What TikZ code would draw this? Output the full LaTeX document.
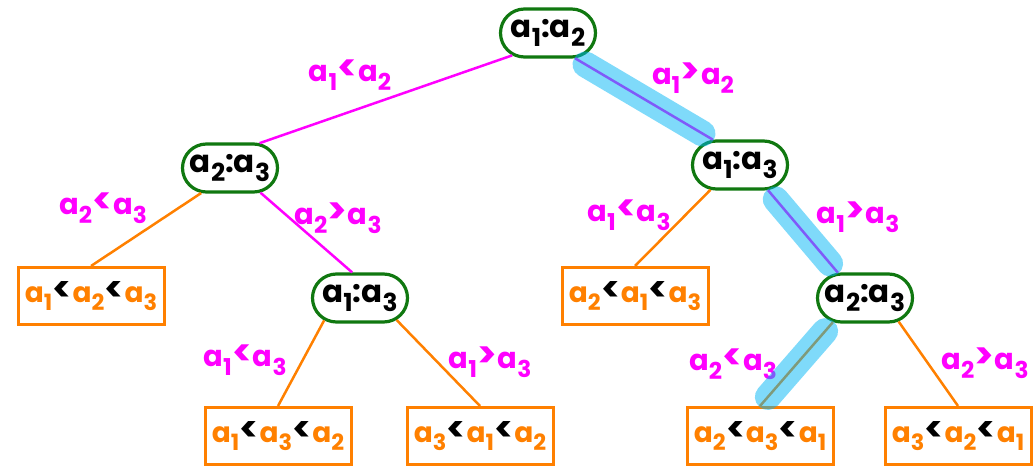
\documentclass[tikz,border=0pt]{standalone}
\usepackage{fontspec}
\usepackage{graphicx}
\setmainfont{Poppins}
\usetikzlibrary{shapes.misc}
\definecolor{mag}{RGB}{255,0,255}
\definecolor{org}{RGB}{255,128,0}
\definecolor{grn}{RGB}{16,120,16}
\definecolor{hl}{RGB}{0,181,245}
% a with a lowered, slightly smaller index
\newcommand\va[1]{a\raisebox{-0.55ex}{\scalebox{0.8}{#1}}}
% enlarged comparison signs
\newcommand\lsign{\kern0.5pt\raisebox{0.05ex}{\scalebox{1.25}{<}}\kern0.5pt}
\newcommand\gsign{\kern0.5pt\raisebox{0.05ex}{\scalebox{1.25}{>}}\kern0.5pt}
% orange variable and black "<" for the sorted orders
\newcommand\oa[1]{\textcolor{org}{\va{#1}}}
\newcommand\blt{\textcolor{black}{\lsign}}
\begin{document}
\begin{tikzpicture}[x=1pt,y=-1pt,
  cmp/.style={draw=grn, line width=3.2pt, rounded rectangle, minimum width=95pt,
    minimum height=48pt, inner sep=0pt, font=\fontsize{31}{33}\selectfont\bfseries},
  leaf/.style={draw=org, line width=3pt, rectangle, minimum width=146pt,
    minimum height=57pt, inner sep=0pt, font=\fontsize{28}{30}\selectfont\bfseries},
  lbl/.style={text=mag, font=\fontsize{29}{32}\selectfont\bfseries, inner sep=0pt},
  mline/.style={mag, line width=2.5pt},
  oline/.style={org, line width=2.5pt},
  hilite/.style={hl, opacity=0.5, line width=26pt, line cap=round,
    shorten <=12pt, shorten >=12pt}]
\useasboundingbox (0,0) rectangle (1033,470);

% comparison nodes
\node[cmp] (root) at (548,33) {\va1:\va2};
\node[cmp] (A) at (230,168) {\va2:\va3};
\node[cmp] (B) at (740,165) {\va1:\va3};
\node[cmp] (M) at (360,298) {\va1:\va3};
\node[cmp] (C) at (865,298) {\va2:\va3};

% leaves: resulting orders
\node[leaf] (L1) at (91,296) {\oa1\blt\oa2\blt\oa3};
\node[leaf] (L2) at (635,296) {\oa2\blt\oa1\blt\oa3};
\node[leaf] (L3) at (278,436) {\oa1\blt\oa3\blt\oa2};
\node[leaf] (L4) at (480,436) {\oa3\blt\oa1\blt\oa2};
\node[leaf] (L5) at (760,436) {\oa2\blt\oa3\blt\oa1};
\node[leaf] (L6) at (958,436) {\oa3\blt\oa2\blt\oa1};

% branches
\draw[mline] (root.212) -- (A.40);
\draw[mline] (root.317) -- (B.137);
\draw[oline] (A.221) -- (L1.north);
\draw[mline] (A.321) -- (M.107);
\draw[oline] (M.212) -- (L3.north);
\draw[oline] (M.329) -- (L4.north);
\draw[oline] (B.220) -- (L2.north);
\draw[mline] (B.318) -- (C.137);
\draw[oline] (C.217) -- (L5.north);
\draw[oline] (C.325) -- (L6.north);

% branch labels
\node[lbl] (t1) at (350,75) {\va1\lsign\va2};
\node[lbl] (t2) at (693,78) {\va1\gsign\va2};
\node[lbl] (t3) at (103,208) {\va2\lsign\va3};
\node[lbl] (t4) at (338,218) {\va2\gsign\va3};
\node[lbl] (t5) at (245,360) {\va1\lsign\va3};
\node[lbl] (t6) at (490,362) {\va1\gsign\va3};
\node[lbl] (t7) at (629,215) {\va1\lsign\va3};
\node[lbl] (t8) at (858,217) {\va1\gsign\va3};
\node[lbl] (t9) at (733,364) {\va2\lsign\va3};
\node[lbl] (t10) at (985,363) {\va2\gsign\va3};

% highlighted path
\draw[hilite] (root.317) -- (B.137);
\draw[hilite] (B.318) -- (C.137);
\draw[hilite] (C.217) -- (L5.north);
\end{tikzpicture}
\end{document}
